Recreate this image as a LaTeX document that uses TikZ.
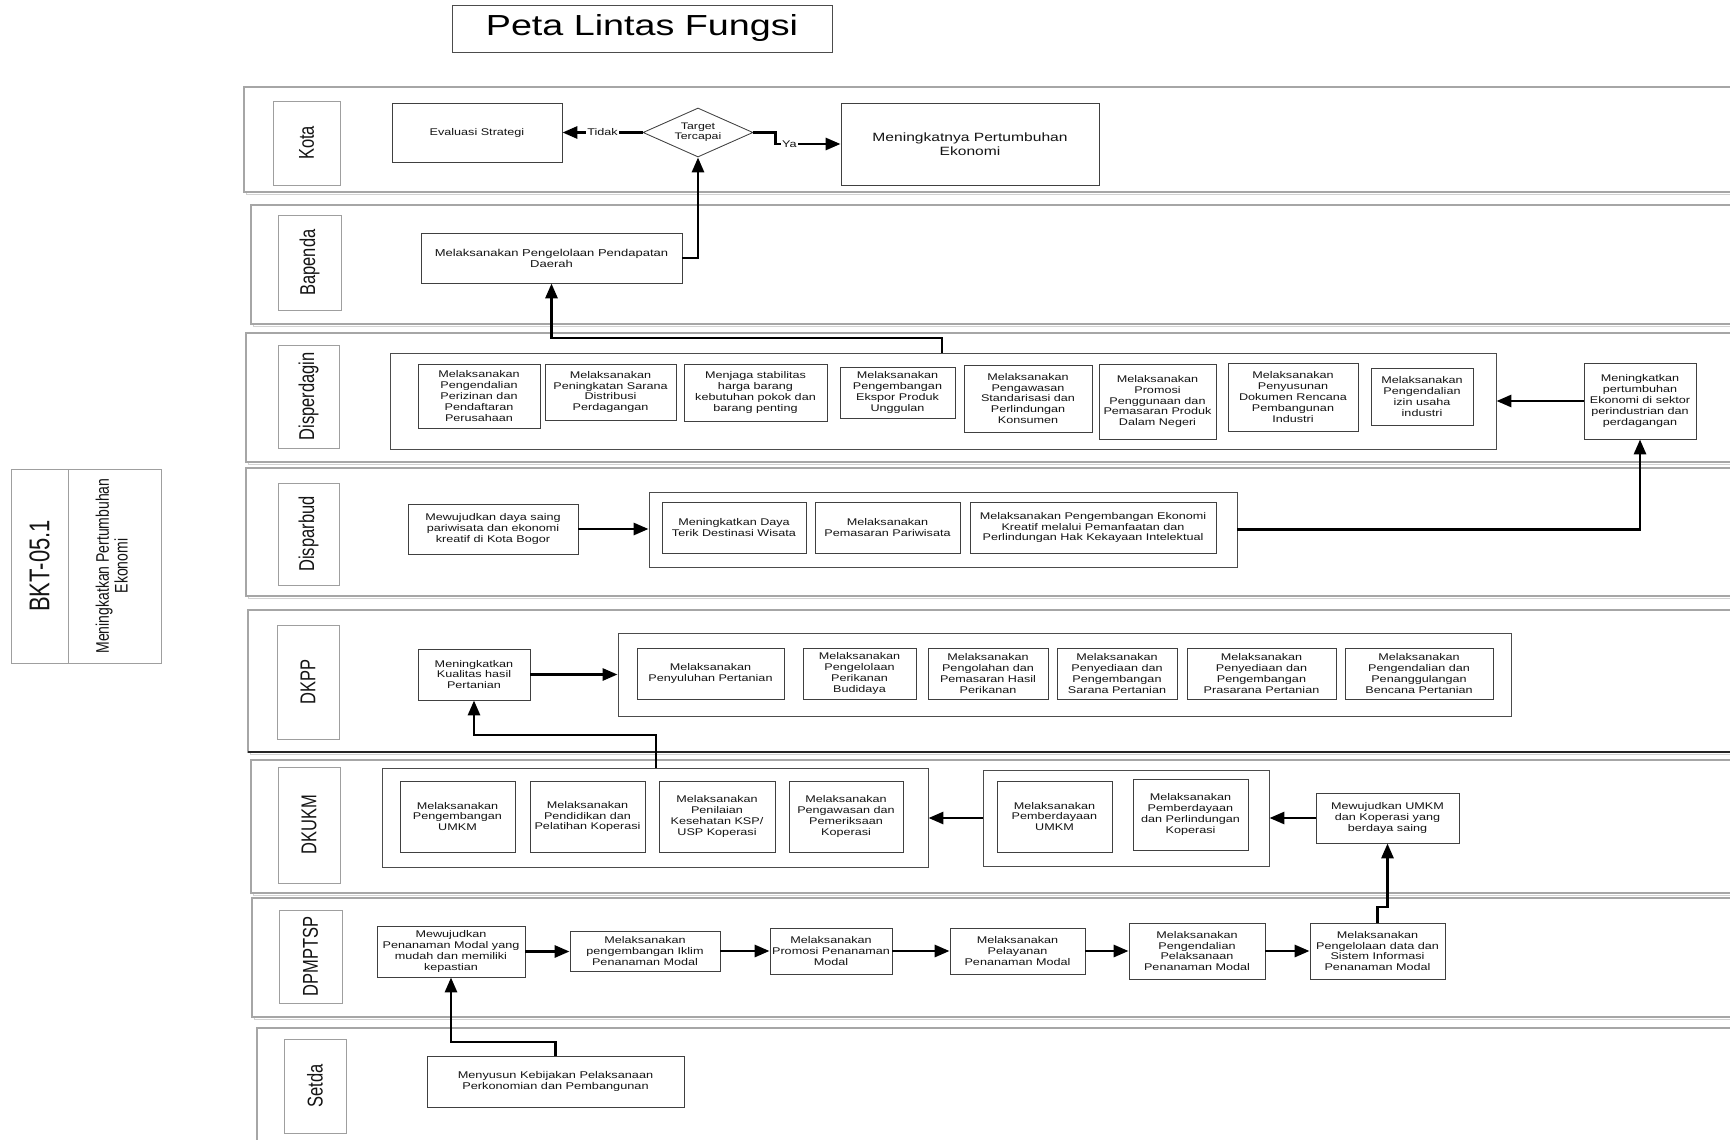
\documentclass[tikz,border=0pt]{standalone}
\usepackage{graphicx}
\usepackage{fontspec}
\setmainfont{Liberation Sans}
\newfontfamily\widefont[FakeStretch=1.3]{Liberation Sans}
\usetikzlibrary{arrows.meta,shapes.geometric,calc}

% box given by its corners (x1,y1)-(x2,y2)
\newcommand\rbox[7][box]{%
  \pgfmathsetmacro\rbw{#5-#3}\pgfmathsetmacro\rbh{#6-#4}%
  \pgfmathsetmacro\rbx{(#3+#5)/2}\pgfmathsetmacro\rby{(#4+#6)/2}%
  \node[#1, minimum width=\rbw pt, minimum height=\rbh pt] (#2) at (\rbx,\rby) {#7};}

% swimlane band, open to the right
\newcommand\lane[4][laneedge]{%
  \draw[laneshade] (#2+2.5,#3+2.5) rectangle (1760,#4+2.5);
  \draw[#1, fill=white] (#2,#3) rectangle (1760,#4);}

% upright lane title, read bottom to top
\newcommand\lanetext[1]{\rotatebox{90}{\scalebox{1}[1.3]{\fontsize{16.5}{18}\selectfont #1}}}

\tikzset{
  box/.style={draw=black!75, line width=0.85pt, fill=white, text=black!92, align=center,
    inner sep=0pt, font=\widefont\fontsize{9.7}{10.9}\selectfont},
  grp/.style={draw=black!70, line width=0.9pt, fill=white, inner sep=0pt},
  lanelbl/.style={draw=gray!75, line width=0.9pt, fill=white, inner sep=0pt, text=black!92},
  laneedge/.style={draw=gray!70, line width=1.3pt},
  laneshade/.style={draw=gray!35, line width=1pt},
  flow/.style={line width=2.9pt, draw=black, -{Triangle[length=15pt,width=12pt]}},
  lbl/.style={fill=white, inner sep=1pt, text=black!92, font=\widefont\fontsize{9.7}{10.9}\selectfont},
}

\begin{document}
\begin{tikzpicture}[x=1pt, y=-1pt]
\useasboundingbox (0,0) rectangle (1730,1140);
\clip (0,0) rectangle (1730,1140);
\fill[white] (0,0) rectangle (1730,1140);

% ---------- title ----------
\rbox[draw=black!70, line width=0.9pt, fill=white, inner sep=0pt, text=black,
  font=\widefont\fontsize{29}{32}\selectfont]{title}{452}{5}{832}{52}{Peta Lintas Fungsi}

% ---------- indicator block ----------
\rbox[lanelbl]{bkt}{11}{469}{161}{663}{}
\draw[gray!75, line width=0.9pt] (68,469) -- (68,663);
\node[text=black!92] (bktcode) at (39.5,566)
  {\rotatebox{90}{\scalebox{1}[1.3]{\fontsize{22}{24}\selectfont BKT-05.1}}};
\node[text=black!92] (bktname) at (114.5,566)
  {\rotatebox{90}{\scalebox{1}[1.3]{\fontsize{14}{14.5}\selectfont
   \begin{tabular}{@{}c@{}}Meningkatkan Pertumbuhan\\Ekonomi\end{tabular}}}};

% ---------- lanes ----------
\lane{244}{87}{192}
\lane{251}{205}{324}
\lane{246}{333}{462}
\lane{246}{468}{596}
\lane{248}{610}{752}
\draw[black!85, line width=1.5pt] (248,752) -- (1760,752);
\lane{251}{760}{893}
\lane{252}{898}{1017}
\lane{257}{1028}{1160}

\rbox[lanelbl]{lKota}{273}{101}{340}{185}{\lanetext{Kota}}
\rbox[lanelbl]{lBapenda}{278}{215}{341}{310}{\lanetext{Bapenda}}
\rbox[lanelbl]{lDisperdagin}{278}{345}{339}{448}{\lanetext{Disperdagin}}
\rbox[lanelbl]{lDisparbud}{278}{483}{339}{585}{\lanetext{Disparbud}}
\rbox[lanelbl]{lDKPP}{277}{625}{339}{739}{\lanetext{DKPP}}
\rbox[lanelbl]{lDKUKM}{278}{767}{340}{883}{\lanetext{DKUKM}}
\rbox[lanelbl]{lDPMPTSP}{279}{910}{342}{1003}{\lanetext{DPMPTSP}}
\rbox[lanelbl]{lSetda}{284}{1039}{346}{1133}{\lanetext{Setda}}

% ---------- Kota ----------
\rbox{ev}{392}{103}{562}{162}{Evaluasi Strategi}
\node[draw=black!75, line width=0.85pt, fill=white, diamond, shape aspect=2.2, inner sep=0pt,
  minimum width=110pt, minimum height=49pt, align=center, text=black!92,
  font=\widefont\fontsize{9.5}{10}\selectfont] (tgt) at (698,132.5) {Target\\Tercapai};
\rbox[box, font=\widefont\fontsize{12}{14.5}\selectfont]{mpe}{841}{103}{1099}{185}{Meningkatnya Pertumbuhan\\Ekonomi}

% ---------- Bapenda ----------
\rbox[box, font=\widefont\fontsize{10}{11}\selectfont]{bp}{421}{233}{682}{283}{Melaksanakan Pengelolaan Pendapatan\\Daerah}

% ---------- Disperdagin ----------
\rbox[grp]{dg}{390}{353}{1496}{449}{}
\rbox{d1}{418}{364}{540}{428}{Melaksanakan\\Pengendalian\\Perizinan dan\\Pendaftaran\\Perusahaan}
\rbox{d2}{545}{364}{676}{420}{Melaksanakan\\Peningkatan Sarana\\Distribusi\\Perdagangan}
\rbox{d3}{684}{364}{827}{421}{Menjaga stabilitas\\harga barang\\kebutuhan pokok dan\\barang penting}
\rbox{d4}{840}{367}{955}{418}{Melaksanakan\\Pengembangan\\Ekspor Produk\\Unggulan}
\rbox{d5}{964}{365}{1092}{432}{Melaksanakan\\Pengawasan\\Standarisasi dan\\Perlindungan\\Konsumen}
\rbox{d6}{1099}{364}{1216}{439}{Melaksanakan\\Promosi\\Penggunaan dan\\Pemasaran Produk\\Dalam Negeri}
\rbox{d7}{1228}{363}{1358}{431}{Melaksanakan\\Penyusunan\\Dokumen Rencana\\Pembangunan\\Industri}
\rbox{d8}{1371}{368}{1473}{425}{Melaksanakan\\Pengendalian\\izin usaha\\industri}
\rbox{dp}{1584}{363}{1696}{439}{Meningkatkan\\pertumbuhan\\Ekonomi di sektor\\perindustrian dan\\perdagangan}

% ---------- Disparbud ----------
\rbox{dsa}{408}{504}{578}{554}{Mewujudkan daya saing\\pariwisata dan ekonomi\\kreatif di Kota Bogor}
\rbox[grp]{dbc}{649}{492}{1237}{567}{}
\rbox{db1}{662}{502}{806}{553}{Meningkatkan Daya\\Terik Destinasi Wisata}
\rbox{db2}{815}{502}{960}{553}{Melaksanakan\\Pemasaran Pariwisata}
\rbox{db3}{970}{502}{1216}{553}{Melaksanakan Pengembangan Ekonomi\\Kreatif melalui Pemanfaatan dan\\Perlindungan Hak Kekayaan Intelektual}

% ---------- DKPP ----------
\rbox{kh}{418}{649}{530}{700}{Meningkatkan\\Kualitas hasil\\Pertanian}
\rbox[grp]{kc}{618}{633}{1511}{716}{}
\rbox{k1}{637}{648}{784}{699}{Melaksanakan\\Penyuluhan Pertanian}
\rbox{k2}{803}{648}{916}{699}{Melaksanakan\\Pengelolaan\\Perikanan\\Budidaya}
\rbox{k3}{928}{648}{1048}{699}{Melaksanakan\\Pengolahan dan\\Pemasaran Hasil\\Perikanan}
\rbox{k4}{1057}{648}{1177}{699}{Melaksanakan\\Penyediaan dan\\Pengembangan\\Sarana Pertanian}
\rbox{k5}{1187}{648}{1336}{699}{Melaksanakan\\Penyediaan dan\\Pengembangan\\Prasarana Pertanian}
\rbox{k6}{1345}{648}{1493}{699}{Melaksanakan\\Pengendalian dan\\Penanggulangan\\Bencana Pertanian}

% ---------- DKUKM ----------
\rbox[grp]{ukc1}{382}{768}{928}{867}{}
\rbox{u1}{400}{781}{515}{852}{Melaksanakan\\Pengembangan\\UMKM}
\rbox{u2}{530}{781}{645}{852}{Melaksanakan\\Pendidikan dan\\Pelatihan Koperasi}
\rbox{u3}{659}{781}{775}{852}{Melaksanakan\\Penilaian\\Kesehatan KSP/\\USP Koperasi}
\rbox{u4}{789}{781}{903}{852}{Melaksanakan\\Pengawasan dan\\Pemeriksaan\\Koperasi}
\rbox[grp]{ukc2}{983}{770}{1269}{866}{}
\rbox{u5}{997}{781}{1112}{852}{Melaksanakan\\Pemberdayaan\\UMKM}
\rbox{u6}{1133}{779}{1248}{850}{Melaksanakan\\Pemberdayaan\\dan Perlindungan\\Koperasi}
\rbox{um}{1316}{793}{1459}{843}{Mewujudkan UMKM\\dan Koperasi yang\\berdaya saing}

% ---------- DPMPTSP ----------
\rbox{p1}{377}{926}{525}{977}{Mewujudkan\\Penanaman Modal yang\\mudah dan memiliki\\kepastian}
\rbox{p2}{570}{931}{720}{971}{Melaksanakan\\pengembangan Iklim\\Penanaman Modal}
\rbox{p3}{770}{928}{892}{974}{Melaksanakan\\Promosi Penanaman\\Modal}
\rbox{p4}{950}{928}{1085}{974}{Melaksanakan\\Pelayanan\\Penanaman Modal}
\rbox{p5}{1129}{923}{1265}{979}{Melaksanakan\\Pengendalian\\Pelaksanaan\\Penanaman Modal}
\rbox{p6}{1310}{923}{1445}{979}{Melaksanakan\\Pengelolaan data dan\\Sistem Informasi\\Penanaman Modal}

% ---------- Setda ----------
\rbox[box, font=\widefont\fontsize{9.8}{11}\selectfont]{st}{427}{1056}{684}{1107}{Menyusun Kebijakan Pelaksanaan\\Perkonomian dan Pembangunan}

% ---------- connectors ----------
\coordinate (j4)  at (942,338);
\coordinate (j9)  at (656,735);
\coordinate (j12) at (1377,907);
\coordinate (j14) at (556,1042);

\draw[flow] (tgt.west) -- (ev.east) node[lbl, midway] (tidak) {Tidak};
\draw[flow] (tgt.east) -- ++(22,0) coordinate (ya1) |- (mpe.west);
\node[lbl] (ya) at ($(ya1 |- mpe.west)+(14,0)$) {Ya};
\draw[flow] (bp.east) -| (tgt.south);
\draw[flow] (j4 |- dg.north) -- (j4) -| (bp.south);
\draw[flow] (dp.west) -- (dp.west -| dg.east);
\draw[flow] (dbc.east) -| (dp.south);
\draw[flow] (dsa.east) -- (dsa.east -| dbc.west);
\draw[flow] (kh.east) -- (kh.east -| kc.west);
\draw[flow] (j9 |- ukc1.north) -- (j9) -| (kh.south);
\draw[flow] (um.west) -- (um.west -| ukc2.east);
\draw[flow] (ukc2.west) -- (ukc2.west -| ukc1.east);
\draw[flow] (p6.north) -- (p6.north |- j12) -| (um.south);
\draw[flow] (p1.east) -- (p1.east -| p2.west);
\draw[flow] (p2.east) -- (p2.east -| p3.west);
\draw[flow] (p3.east) -- (p3.east -| p4.west);
\draw[flow] (p4.east) -- (p4.east -| p5.west);
\draw[flow] (p5.east) -- (p5.east -| p6.west);
\draw[flow] (st.north) -- (st.north |- j14) -| (p1.south);
\end{tikzpicture}
\end{document}
